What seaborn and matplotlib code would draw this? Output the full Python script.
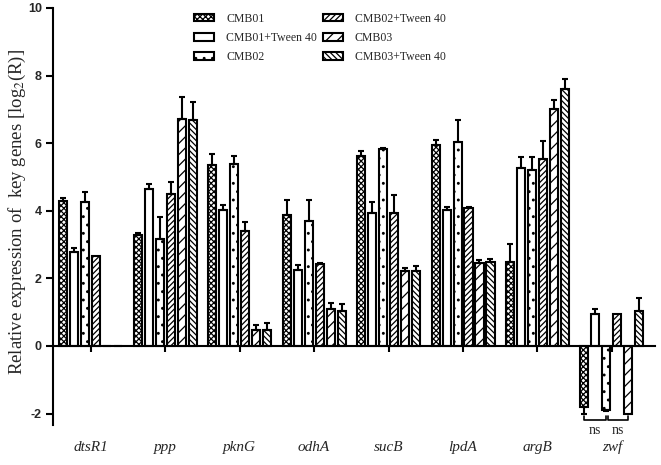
import matplotlib
matplotlib.use("Agg")
import matplotlib.pyplot as plt
import seaborn as sns
import pandas as pd
from matplotlib.patches import Patch

# --- data ---
genes = ['dtsR1', 'ppp', 'pknG', 'odhA', 'sucB', 'lpdA', 'argB', 'zwf']
strains = ['CMB01', 'CMB01+Tween 40', 'CMB02', 'CMB02+Tween 40', 'CMB03', 'CMB03+Tween 40']

cmb01 = [4.30, 3.28, 5.35, 3.87, 5.63, 5.94, 2.49, -1.80]
cmb01_err = [0.08, 0.05, 0.32, 0.45, 0.15, 0.14, 0.53, 0.22]
cmb01_tw = [2.77, 4.65, 4.02, 2.24, 3.93, 4.01, 5.25, 0.95]
cmb01_tw_err = [0.12, 0.14, 0.14, 0.15, 0.32, 0.09, 0.35, 0.14]
cmb02 = [4.27, 3.16, 5.37, 3.70, 5.83, 6.04, 5.19, -1.91]
cmb02_err = [0.28, 0.64, 0.26, 0.61, 0.03, 0.64, 0.41, 0.03]
cmb02_tw = [2.65, 4.50, 3.39, 2.42, 3.93, 4.07, 5.53, 0.95]
cmb02_tw_err = [0.0, 0.34, 0.28, 0.03, 0.53, 0.03, 0.53, 0.0]
cmb03 = [0.0, 6.70, 0.47, 1.09, 2.21, 2.45, 7.01, -2.01]
cmb03_err = [0.0, 0.65, 0.15, 0.17, 0.10, 0.10, 0.26, 0.0]
cmb03_tw = [0.0, 6.68, 0.48, 1.02, 2.23, 2.48, 7.60, 1.04]
cmb03_tw_err = [0.0, 0.54, 0.21, 0.21, 0.13, 0.10, 0.31, 0.39]

values = [cmb01, cmb01_tw, cmb02, cmb02_tw, cmb03, cmb03_tw]
errors = [cmb01_err, cmb01_tw_err, cmb02_err, cmb02_tw_err, cmb03_err, cmb03_tw_err]
hatches = ['xxxxxx', '', '..', '//////', '///', '\\' * 6]

rows = []
for s, vals in zip(strains, values):
    for g, v in zip(genes, vals):
        rows.append({'gene': g, 'strain': s, 'value': v})
df = pd.DataFrame(rows)

sns.set_theme(style='white')
plt.rcParams['font.family'] = ['Liberation Serif', 'DejaVu Serif']
plt.rcParams['mathtext.fontset'] = 'stix'
plt.rcParams['hatch.linewidth'] = 0.9

fig = plt.figure(figsize=(6.61, 4.65), dpi=100)
ax = fig.add_axes([0.080, 0.086, 0.911, 0.897])

sns.barplot(data=df, x='gene', y='value', hue='strain', order=genes, hue_order=strains,
            palette=['white'] * 6, edgecolor='black', linewidth=1.5,
            width=0.886, gap=0.27, errorbar=None, legend=False, ax=ax)

# hatches + error bars per strain
centers = []
for cont, h, vals, errs in zip(ax.containers, hatches, values, errors):
    xs = []
    for p in cont.patches:
        p.set_hatch(h)
        xs.append(p.get_x() + p.get_width() / 2)
    centers.append(xs)
    for x, v, e in zip(xs, vals, errs):
        if e <= 0:
            continue
        yerr = [[0], [e]] if v >= 0 else [[e], [0]]
        ax.errorbar([x], [v], yerr=yerr, fmt='none', ecolor='black',
                    elinewidth=1.5, capsize=2.5, capthick=1.5)

# axes styling
ax.set_xlim(-0.51, 7.58)
ax.set_ylim(-2.34, 10)
ax.set_yticks([-2, 0, 2, 4, 6, 8, 10])
ax.set_yticklabels(['-2', '0', '2', '4', '6', '8', '10'], fontweight='bold',
                   family='Liberation Sans', fontsize=9)
sns.despine(ax=ax, top=True, right=True)
ax.spines['bottom'].set_position(('data', 0))
for sp in ['left', 'bottom']:
    ax.spines[sp].set_color('black')
    ax.spines[sp].set_linewidth(1.5)
ax.tick_params(axis='y', direction='out', length=5, width=1.5, color='black', pad=3, left=True)
ax.tick_params(axis='x', direction='out', length=4, width=1.5, color='black',
               bottom=True, labelbottom=False)
ax.set_xlabel('')
ax.set_ylabel(r'Relative expression of  key genes [log$_2$(R)]', fontsize=13.5)
ax.yaxis.set_label_coords(-0.042, 0.51)

# gene names under the plot
for i, g in enumerate(genes):
    ax.text(i, -0.053, g, transform=ax.get_xaxis_transform(), ha='center', va='center',
            style='italic', fontsize=11)

# ns brackets for zwf
zi = len(genes) - 1
pairs = [(centers[0][zi], centers[2][zi] - 0.01), (centers[2][zi] + 0.02, centers[4][zi])]
for x1, x2 in pairs:
    ax.plot([x1, x1, x2, x2], [-2.07, -2.2, -2.2, -2.07], color='black', lw=1.2, clip_on=False)
    ax.text((x1 + x2) / 2, -2.5, 'ns', ha='center', va='center', fontsize=10, clip_on=False)

# legend
handles = [Patch(facecolor='white', edgecolor='black', hatch=h, linewidth=1.5) for h in hatches]
ax.legend(handles, strains, ncol=2, frameon=False, fontsize=8.5,
          loc='upper left', bbox_to_anchor=(0.287, 0.983), bbox_transform=fig.transFigure,
          handlelength=1.7, handleheight=0.65, handletextpad=1.0, columnspacing=0.5,
          labelspacing=0.6, borderaxespad=0)

fig.savefig('out.png', dpi=100)
